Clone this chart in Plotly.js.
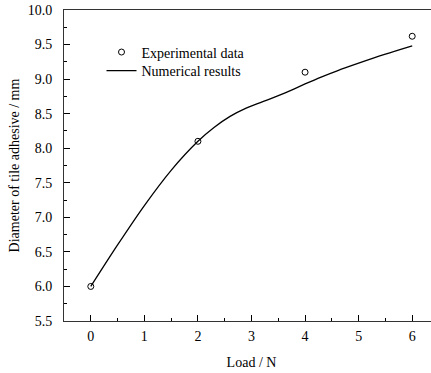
<!DOCTYPE html>
<html>
<head>
<meta charset="utf-8">
<script src="https://cdn.plot.ly/plotly-3.0.1.min.js"></script>
<style>
html,body{margin:0;padding:0;overflow:hidden;background:#fff;width:431px;height:373px;}
#chart{width:440px;height:373px;}
</style>
</head>
<body>
<div id="chart"></div>
<script>
// Experimental data
const expLoad = [0, 2, 4, 6];
const expDiameter = [6.0, 8.1, 9.1, 9.62];
// Numerical results
const numLoad = [0, 0.5, 1.0, 1.5, 2.0, 2.3, 2.6, 2.9, 3.2, 3.5, 3.8, 4.0, 4.3, 4.6, 5.0, 5.5, 6.0];
const numDiameter = [6.0, 6.6, 7.17, 7.68, 8.1, 8.3, 8.46, 8.58, 8.67, 8.76, 8.86, 8.93, 9.03, 9.12, 9.23, 9.36, 9.48];
const xTickVals = [0, 1, 2, 3, 4, 5, 6];
const yTickVals = [5.5, 6.0, 6.5, 7.0, 7.5, 8.0, 8.5, 9.0, 9.5, 10.0];

const fontFam = 'Liberation Serif';

const traces = [
  {
    x: expLoad, y: expDiameter, type: 'scatter', mode: 'markers',
    name: 'Experimental data', legend: 'legend',
    marker: {symbol: 'circle-open', size: 6, color: '#000', line: {width: 1, color: '#000'}}
  },
  {
    x: numLoad, y: numDiameter, type: 'scatter', mode: 'lines',
    name: 'Numerical results', legend: 'legend2',
    line: {color: '#000', width: 1.3, shape: 'spline', smoothing: 0.8}
  }
];

const legendBase = {
  xanchor: 'left', yanchor: 'top',
  bgcolor: 'rgba(0,0,0,0)', borderwidth: 0,
  font: {family: fontFam, size: 14, color: '#000'}
};

const layout = {
  width: 440, height: 373,
  margin: {l: 64, r: 1, t: 10, b: 52},
  paper_bgcolor: '#fff', plot_bgcolor: '#fff',
  font: {family: fontFam, size: 14, color: '#000'},
  showlegend: true,
  legend: Object.assign({x: 0.1, y: 0.915}, legendBase),
  legend2: Object.assign({x: 0.1, y: 0.855}, legendBase),
  xaxis: {
    range: [-0.5, 6.5],
    tickvals: xTickVals,
    ticks: 'inside', ticklen: 6, tickwidth: 1, tickcolor: '#000',
    showline: true, linecolor: '#333', linewidth: 1, mirror: true,
    showgrid: false, zeroline: false,
    minor: {dtick: 0.5, ticks: 'inside', ticklen: 3, tickcolor: '#000', showgrid: false},
    tickfont: {family: fontFam, size: 14, color: '#000'},
    ticklabelstandoff: 2,
    title: {text: 'Load / N', font: {family: fontFam, size: 14, color: '#000'}, standoff: 14}
  },
  yaxis: {
    range: [5.5, 10.0],
    tickvals: yTickVals,
    tickformat: '.1f',
    ticks: 'inside', ticklen: 6, tickwidth: 1, tickcolor: '#000',
    showline: true, linecolor: '#333', linewidth: 1, mirror: true,
    showgrid: false, zeroline: false,
    minor: {dtick: 0.25, ticks: 'inside', ticklen: 3, tickcolor: '#000', showgrid: false},
    tickfont: {family: fontFam, size: 14, color: '#000'},
    ticklabelstandoff: 8,
    title: {text: 'Diameter of tile adhesive / mm', font: {family: fontFam, size: 14, color: '#000'}, standoff: 4}
  }
};

Plotly.newPlot('chart', traces, layout, {displayModeBar: false, staticPlot: true});
</script>
</body>
</html>
